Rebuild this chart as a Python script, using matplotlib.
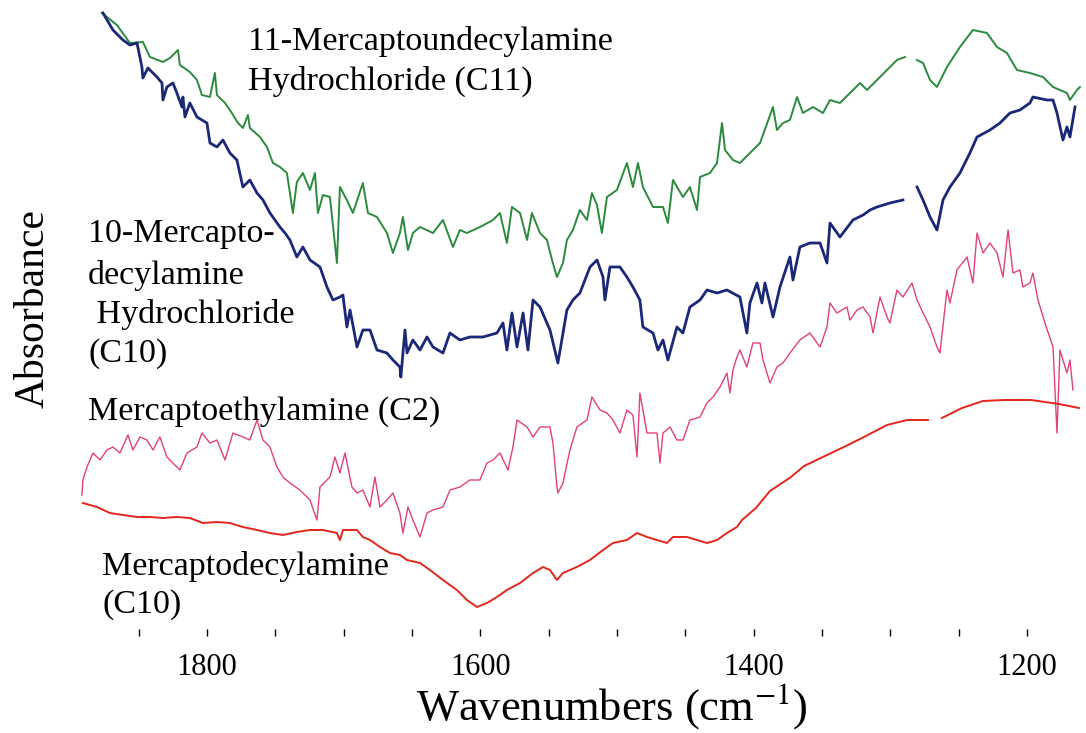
import numpy as np
import matplotlib
matplotlib.use("Agg")
import matplotlib.pyplot as plt
from matplotlib.ticker import FixedLocator

plt.rcParams['font.family'] = ['Liberation Serif', 'DejaVu Serif']
plt.rcParams['mathtext.fontset'] = 'stix'

# 11-Mercaptoundecylamine Hydrochloride (C11)
c11_wn = [1876.9, 1865.9, 1856.4, 1846.9, 1841.7, 1832.2, 1827.1, 1821.2, 1819.8, 1812.5,
          1807.3, 1803.7, 1797.8, 1794.2, 1792.7, 1786.8, 1783.2, 1777.3, 1773.7, 1770.0,
          1768.6, 1761.2, 1756.1, 1751.7, 1746.6, 1741.5, 1737.1, 1734.2, 1729.8, 1724.6,
          1721.0, 1718.8, 1715.1, 1710.0, 1704.9, 1702.7, 1697.6, 1693.2, 1685.9, 1682.2,
          1675.6, 1668.3, 1663.9, 1658.8, 1656.6, 1652.9, 1649.3, 1644.1, 1634.6, 1627.3,
          1620.0, 1614.9, 1609.8, 1600.2, 1590.7, 1585.6, 1580.5, 1576.8, 1570.9, 1565.8,
          1562.2, 1556.3, 1551.2, 1547.5, 1543.9, 1539.5, 1536.6, 1532.2, 1527.1, 1521.9,
          1518.3, 1514.6, 1511.0, 1507.3, 1500.0, 1492.7, 1488.3, 1484.6, 1481.0, 1473.6,
          1466.3, 1462.7, 1459.0, 1451.7, 1446.6, 1441.4, 1439.2, 1431.9, 1426.8, 1423.1,
          1420.9, 1415.1, 1410.0, 1402.7, 1395.3, 1385.8, 1382.9, 1378.5, 1373.4, 1368.2,
          1363.9, 1356.5, 1349.2, 1344.1, 1336.8, 1329.5, 1322.1, 1317.0, 1309.7, 1302.4,
          1295.1, 1289.2, 1285.0, 1280.4, 1276.0, 1270.9, 1265.8, 1258.5, 1249.0, 1239.5,
          1229.2, 1221.9, 1214.6, 1207.3, 1197.8, 1188.2, 1180.9, 1170.7, 1168.5, 1163.4,
          1161.2]
c11_abs = [6.23, 6.11, 5.93, 5.94, 5.79, 5.74, 5.78, 5.86, 5.71, 5.64,
           5.56, 5.41, 5.39, 5.63, 5.41, 5.33, 5.26, 5.13, 5.08, 5.21,
           5.08, 4.99, 4.89, 4.73, 4.69, 4.63, 4.23, 4.54, 4.63, 4.46,
           4.63, 4.23, 4.41, 4.39, 3.73, 4.49, 4.36, 4.23, 4.53, 4.23,
           4.19, 4.03, 3.83, 4.03, 4.19, 3.86, 4.03, 4.09, 4.03, 4.16,
           3.89, 4.06, 4.03, 4.09, 4.16, 4.23, 3.93, 4.29, 4.23, 3.96,
           4.23, 4.03, 3.96, 3.76, 3.59, 3.73, 3.96, 4.06, 4.26, 4.16,
           4.43, 4.31, 4.03, 4.39, 4.46, 4.73, 4.49, 4.73, 4.49, 4.29,
           4.29, 4.13, 4.56, 4.39, 4.49, 4.26, 4.59, 4.63, 4.73, 5.13,
           4.86, 4.76, 4.73, 4.83, 4.93, 5.29, 5.06, 5.13, 5.16, 5.39,
           5.23, 5.29, 5.23, 5.36, 5.33, 5.43, 5.53, 5.46, 5.56, 5.66,
           5.76, 5.79, np.nan, 5.76, 5.73, 5.56, 5.49, 5.69, 5.89, 6.06,
           6.03, 5.89, 5.83, 5.66, 5.63, 5.59, 5.49, 5.43, 5.36, 5.46,
           5.49]

# 10-Mercaptodecylamine Hydrochloride (C10)
c10hcl_wn = [1876.1, 1868.8, 1861.5, 1856.4, 1851.2, 1847.6, 1846.9, 1843.2, 1836.6, 1832.9,
             1832.2, 1829.3, 1824.9, 1822.0, 1818.3, 1817.6, 1816.1, 1812.5, 1807.3, 1800.0,
             1797.8, 1792.7, 1788.3, 1783.2, 1778.1, 1773.7, 1768.6, 1763.4, 1759.0, 1753.9,
             1746.6, 1742.9, 1739.3, 1734.2, 1729.8, 1724.6, 1717.3, 1712.2, 1707.8, 1702.7,
             1700.5, 1697.6, 1695.3, 1690.2, 1685.9, 1680.7, 1675.6, 1668.3, 1663.9, 1658.8,
             1658.1, 1655.1, 1653.6, 1649.3, 1644.1, 1639.0, 1634.6, 1627.3, 1622.2, 1614.9,
             1607.6, 1598.0, 1587.8, 1583.4, 1580.5, 1576.8, 1573.1, 1568.7, 1565.1, 1561.4,
             1556.3, 1549.0, 1543.2, 1539.5, 1536.6, 1532.2, 1527.1, 1519.7, 1514.6, 1510.2,
             1508.8, 1505.1, 1497.8, 1492.7, 1488.3, 1483.2, 1481.0, 1473.6, 1470.0, 1466.3,
             1462.7, 1456.1, 1451.7, 1446.6, 1439.2, 1434.1, 1426.8, 1419.5, 1410.0, 1404.9,
             1402.7, 1397.5, 1393.9, 1391.7, 1385.8, 1380.7, 1373.4, 1371.2, 1366.1, 1358.8,
             1351.4, 1346.3, 1344.1, 1336.8, 1327.3, 1319.9, 1314.8, 1309.7, 1300.2, 1290.7,
             1285.0, 1280.4, 1276.0, 1270.9, 1265.8, 1261.4, 1256.3, 1249.0, 1241.7, 1236.5,
             1227.0, 1219.7, 1212.4, 1205.1, 1197.8, 1195.6, 1185.3, 1180.9, 1178.0, 1173.6,
             1170.7, 1168.5, 1164.8]
c10hcl_abs = [6.23, 6.06, 5.96, 5.91, 5.93, 5.69, 5.58, 5.68, 5.59, 5.53,
              5.36, 5.49, 5.53, 5.43, 5.29, 5.39, 5.19, 5.33, 5.19, 5.13,
              4.93, 4.89, 4.96, 4.83, 4.76, 4.49, 4.56, 4.43, 4.36, 4.23,
              4.09, 4.03, 3.96, 3.79, 3.89, 3.76, 3.69, 3.49, 3.36, 3.39,
              3.41, 3.09, 3.26, 2.89, 3.06, 3.06, 2.86, 2.83, 2.76, 2.69,
              2.59, 3.06, 2.83, 2.96, 2.86, 2.99, 2.89, 2.83, 3.03, 2.96,
              2.99, 2.99, 3.03, 3.13, 2.86, 3.23, 2.89, 3.23, 2.86, 3.36,
              3.29, 3.06, 2.73, 3.03, 3.26, 3.36, 3.43, 3.69, 3.76, 3.59,
              3.36, 3.69, 3.69, 3.59, 3.49, 3.36, 3.09, 3.03, 2.86, 2.96,
              2.76, 3.09, 3.03, 3.29, 3.36, 3.46, 3.43, 3.46, 3.39, 3.03,
              3.33, 3.53, 3.33, 3.53, 3.19, 3.49, 3.79, 3.56, 3.89, 3.93,
              3.93, 3.73, 4.13, 3.99, 4.16, 4.21, 4.26, 4.29, 4.33, 4.36,
              np.nan, 4.49, 4.36, 4.19, 4.06, 4.36, 4.49, 4.63, 4.83, 4.99,
              5.06, 5.13, 5.23, 5.26, 5.33, 5.39, 5.36, 5.36, 5.23, 4.96,
              5.09, 4.99, 5.29]

# Mercaptoethylamine (C2)
c2_wn = [1891.5, 1890.8, 1887.8, 1883.4, 1878.3, 1873.2, 1868.8, 1863.7, 1857.8, 1854.2,
         1849.0, 1843.9, 1839.5, 1834.4, 1829.3, 1824.9, 1819.8, 1814.6, 1807.3, 1803.7,
         1797.8, 1792.7, 1786.8, 1781.0, 1773.7, 1768.6, 1763.4, 1759.0, 1753.9, 1748.8,
         1744.4, 1739.3, 1732.0, 1724.6, 1719.5, 1717.3, 1710.0, 1706.3, 1702.7, 1699.0,
         1693.9, 1690.2, 1685.9, 1680.7, 1677.1, 1673.4, 1668.3, 1663.9, 1658.8, 1656.6,
         1652.9, 1649.3, 1644.1, 1639.0, 1634.6, 1627.3, 1622.2, 1614.9, 1607.6, 1600.2,
         1595.1, 1590.7, 1585.6, 1579.7, 1576.1, 1573.1, 1565.8, 1561.4, 1556.3, 1549.0,
         1546.8, 1543.9, 1543.2, 1539.5, 1534.4, 1529.3, 1521.9, 1518.3, 1512.4, 1507.3,
         1502.9, 1497.8, 1492.7, 1488.3, 1485.3, 1483.2, 1478.0, 1470.7, 1468.5, 1466.3,
         1461.2, 1456.1, 1451.7, 1446.6, 1439.2, 1434.1, 1429.7, 1424.6, 1419.5, 1417.3,
         1415.1, 1412.2, 1410.0, 1404.9, 1400.5, 1395.3, 1393.1, 1388.0, 1382.9, 1378.5,
         1373.4, 1366.1, 1358.8, 1351.4, 1346.3, 1344.1, 1339.0, 1331.7, 1329.5, 1324.3,
         1319.9, 1314.8, 1312.6, 1307.5, 1302.4, 1300.2, 1295.1, 1290.7, 1284.1, 1280.4,
         1276.0, 1270.9, 1265.8, 1263.6, 1258.5, 1256.3, 1251.2, 1243.8, 1239.5, 1236.5,
         1232.1, 1227.0, 1221.9, 1217.5, 1213.8, 1210.2, 1205.1, 1202.9, 1197.8, 1195.6,
         1191.9, 1186.8, 1180.9, 1178.0, 1175.8, 1174.3, 1170.7, 1168.5, 1166.3]
c2_abs = [1.41, 1.56, 1.69, 1.83, 1.76, 1.86, 1.89, 1.83, 2.01, 1.86,
          1.99, 1.96, 1.86, 1.99, 1.79, 1.73, 1.66, 1.83, 1.89, 2.03,
          1.93, 1.96, 1.76, 2.03, 1.99, 1.96, 2.16, 1.96, 1.89, 1.69,
          1.59, 1.53, 1.46, 1.36, 1.16, 1.49, 1.59, 1.79, 1.63, 1.83,
          1.49, 1.43, 1.46, 1.29, 1.59, 1.29, 1.36, 1.43, 1.23, 1.03,
          1.29, 1.16, 0.99, 1.23, 1.26, 1.29, 1.46, 1.49, 1.56, 1.56,
          1.73, 1.76, 1.83, 1.66, 1.89, 2.16, 2.09, 1.99, 2.09, 2.09,
          1.93, 1.49, 1.43, 1.53, 1.86, 2.09, 2.16, 2.39, 2.26, 2.23,
          2.16, 2.03, 2.26, 2.21, 1.79, 2.43, 2.03, 2.03, 1.73, 2.03,
          2.09, 1.96, 1.96, 2.16, 2.19, 2.33, 2.39, 2.49, 2.63, 2.43,
          2.66, 2.79, 2.86, 2.69, 2.93, 2.93, 2.76, 2.53, 2.69, 2.73,
          2.83, 2.96, 3.03, 2.89, 3.09, 3.33, 3.23, 3.29, 3.16, 3.26,
          3.29, 3.19, 3.03, 3.39, 3.19, 3.13, 3.46, 3.39, 3.53, 3.36,
          3.23, 3.09, 2.89, 2.83, 3.46, 3.33, 3.66, 3.79, 3.53, 4.03,
          3.83, 3.93, 3.83, 3.59, 4.06, 3.63, 3.66, 3.49, 3.53, 3.63,
          3.36, 3.13, 2.89, 2.03, 2.86, 2.79, 2.63, 2.76, 2.46]

# Mercaptodecylamine (C10)
c10_wn = [1890.8, 1880.5, 1871.0, 1861.5, 1851.2, 1841.7, 1832.2, 1822.0, 1812.5, 1803.0,
          1792.7, 1783.2, 1773.7, 1763.4, 1753.9, 1744.4, 1734.2, 1724.6, 1715.1, 1704.9,
          1702.7, 1700.5, 1690.2, 1685.9, 1680.7, 1673.4, 1666.1, 1658.8, 1653.6, 1644.1,
          1636.8, 1627.3, 1617.1, 1609.8, 1602.4, 1595.1, 1587.8, 1580.5, 1570.9, 1561.4,
          1554.1, 1549.0, 1543.9, 1539.5, 1529.3, 1519.7, 1510.2, 1502.9, 1492.7, 1485.3,
          1478.0, 1470.7, 1463.4, 1459.0, 1448.8, 1441.4, 1434.1, 1426.8, 1419.5, 1412.2,
          1408.5, 1398.3, 1388.0, 1372.6, 1363.1, 1347.8, 1332.4, 1317.8, 1302.4, 1287.7,
          1272.4, 1267.0, 1262.2, 1247.5, 1232.1, 1216.8, 1197.0, 1176.5, 1161.9]
c10_abs = [1.33, 1.29, 1.23, 1.21, 1.19, 1.19, 1.18, 1.19, 1.18, 1.13,
           1.14, 1.13, 1.09, 1.06, 1.03, 1.01, 1.04, 1.06, 1.06, 1.03,
           0.96, 1.06, 1.06, 0.99, 0.96, 0.89, 0.83, 0.81, 0.76, 0.73,
           0.66, 0.56, 0.46, 0.36, 0.29, 0.33, 0.39, 0.46, 0.53, 0.63,
           0.69, 0.66, 0.56, 0.63, 0.69, 0.76, 0.86, 0.93, 0.96, 1.03,
           0.99, 0.96, 0.93, 0.99, 0.99, 0.96, 0.93, 0.96, 1.03, 1.09,
           1.16, 1.28, 1.45, 1.59, 1.70, 1.80, 1.90, 2.00, 2.11, 2.16,
           2.16, np.nan, 2.18, 2.28, 2.35, 2.36, 2.36, 2.32, 2.28]

W, H = 1086, 733
fig = plt.figure(figsize=(W / 100, H / 100), dpi=100)
ax = fig.add_axes([70.3 / W, 1 - 636 / H, 1014 / W, 636 / H])

ax.plot(c11_wn, c11_abs, color='#2b8a3e', lw=1.4)
ax.plot(c10hcl_wn, c10hcl_abs, color='#1b2878', lw=2.0)
ax.plot(c2_wn, c2_abs, color='#e0407f', lw=1.0)
ax.plot(c10_wn, c10_abs, color='#e4261c', lw=1.4)

ax.set_xlim(1900, 1158)
ax.set_ylim(0, 6.36)
for s in ax.spines.values():
    s.set_visible(False)
ax.set_yticks([])
ax.xaxis.set_major_locator(FixedLocator([1800, 1600, 1400, 1200]))
ax.xaxis.set_minor_locator(FixedLocator([1850, 1750, 1700, 1650, 1550, 1500, 1450,
                                         1350, 1300, 1250]))
ax.tick_params(axis='x', which='both', direction='in', length=5, width=1,
               labelsize=22, pad=12)


def px(x, y):
    return x / W, 1 - y / H


kw = dict(fontsize=24.5, ha='left', va='baseline')
fig.text(*px(248, 50), '11-Mercaptoundecylamine', **kw)
fig.text(*px(248, 90), 'Hydrochloride (C11)', **kw)
fig.text(*px(88, 242), '10-Mercapto-', **kw)
fig.text(*px(88, 284), 'decylamine', **kw)
fig.text(*px(88, 323), ' Hydrochloride', **kw)
fig.text(*px(88, 362), '(C10)', **kw)
fig.text(*px(88, 420), 'Mercaptoethylamine (C2)', **kw)
fig.text(*px(102, 575), 'Mercaptodecylamine', **kw)
fig.text(*px(102, 613), '(C10)', **kw)

fig.text(*px(33, 308), 'Absorbance', fontsize=30, rotation=90,
         ha='center', va='center')
fig.text(*px(612, 720), 'Wavenumbers (cm$^{-1}$)', fontsize=32,
         ha='center', va='baseline')

fig.savefig('out.png', dpi=100)
